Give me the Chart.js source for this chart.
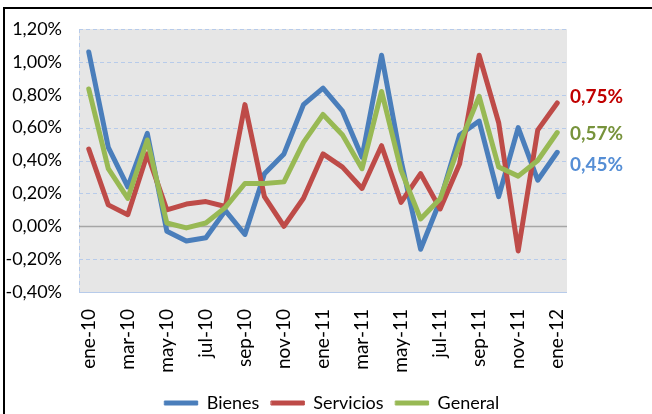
<!DOCTYPE html>
<html>
<head>
<meta charset="utf-8">
<script src="https://cdn.jsdelivr.net/npm/chart.js@4"></script>
<style>
  html, body { margin:0; padding:0; background:#fff; overflow:hidden; }
  #wrap { position:relative; width:652px; height:414px; }
  #marco { position:absolute; left:3px; top:7px; width:800px; height:600px;
           border-top:2px solid #000; border-left:2px solid #000; }
  #grafico { position:absolute; left:0; top:0; }
</style>
</head>
<body>
<div id="wrap">
  <div id="marco"></div>
  <canvas id="grafico" width="652" height="414"></canvas>
</div>
<script>
(function(){
  'use strict';

  // meses (ene-10 .. ene-12), solo se rotulan uno de cada dos
  const meses = [
    'ene-10','feb-10','mar-10','abr-10','may-10','jun-10','jul-10','ago-10','sep-10','oct-10','nov-10','dic-10',
    'ene-11','feb-11','mar-11','abr-11','may-11','jun-11','jul-11','ago-11','sep-11','oct-11','nov-11','dic-11',
    'ene-12'
  ];

  // variación mensual, en %
  const bienes = [1.06, 0.48, 0.24, 0.565, -0.03, -0.09, -0.07, 0.095, -0.05, 0.32, 0.44, 0.74,
                  0.84, 0.70, 0.42, 1.04, 0.40, -0.14, 0.155, 0.555, 0.64, 0.18, 0.60, 0.28, 0.45];
  const servicios = [0.47, 0.13, 0.07, 0.44, 0.10, 0.135, 0.15, 0.12, 0.74, 0.18, 0.00, 0.17,
                     0.44, 0.36, 0.23, 0.49, 0.145, 0.32, 0.105, 0.38, 1.04, 0.63, -0.15, 0.585, 0.75];
  const general = [0.835, 0.35, 0.17, 0.525, 0.02, -0.01, 0.02, 0.115, 0.26, 0.26, 0.27, 0.51,
                   0.68, 0.555, 0.35, 0.82, 0.34, 0.044, 0.167, 0.50, 0.79, 0.36, 0.305, 0.40, 0.57];

  const ejeY = { min: -0.4, max: 1.2, paso: 0.2 };

  const AZUL = '#4A7EBB', ROJO = '#BE4B48', VERDE = '#98B954';
  const FUENTE = 'Lato, "Open Sans", sans-serif';

  function pct(v){ return v.toFixed(2).replace('.', ',') + '%'; }

  // fondo gris y líneas de división al estilo Excel
  const fondoPlot = {
    id: 'fondoPlot',
    beforeDatasetsDraw(chart){
      const {ctx, chartArea: a, scales} = chart;
      const y = scales.y;
      ctx.save();
      ctx.fillStyle = '#E6E6E6';
      ctx.fillRect(a.left, a.top, a.right - a.left, a.bottom - a.top);
      ctx.lineWidth = 1;
      y.ticks.forEach(t => {
        const py = Math.round(y.getPixelForValue(t.value)) + 0.5;
        if (Math.abs(t.value) < 1e-9) return;
        ctx.strokeStyle = '#B7CBEA';
        ctx.setLineDash(t.value <= ejeY.min + 1e-9 ? [] : [4, 3]);
        ctx.beginPath(); ctx.moveTo(a.left, py); ctx.lineTo(a.right, py); ctx.stroke();
      });
      ctx.setLineDash([4, 3]);
      ctx.strokeStyle = '#B7CBEA';
      ctx.beginPath(); ctx.moveTo(a.left + 0.5, a.top); ctx.lineTo(a.left + 0.5, a.bottom); ctx.stroke();
      ctx.setLineDash([]);
      const p0 = Math.round(y.getPixelForValue(0)) + 0.5;
      ctx.strokeStyle = '#A6A6A6';
      ctx.lineWidth = 1.5;
      ctx.beginPath(); ctx.moveTo(a.left, p0); ctx.lineTo(a.right, p0); ctx.stroke();
      ctx.restore();
    }
  };

  // último valor de cada serie a la derecha
  const etiquetasFinales = {
    id: 'etiquetasFinales',
    afterDatasetsDraw(chart, args, opts){
      const {ctx, chartArea: a, scales} = chart;
      ctx.save();
      ctx.font = 'bold 19px ' + FUENTE;
      ctx.textAlign = 'left';
      ctx.textBaseline = 'middle';
      chart.data.datasets.forEach((ds, i) => {
        const v = ds.data[ds.data.length - 1];
        const py = scales.y.getPixelForValue(v) + (opts.desfase[i] || 0);
        ctx.fillStyle = opts.colores[i];
        ctx.fillText(pct(v), a.right + 3, py);
      });
      ctx.restore();
    }
  };

  // la leyenda de Excel va centrada en todo el ancho, no solo bajo el gráfico
  const leyendaCentrada = {
    id: 'leyendaCentrada',
    afterLayout(chart){
      const lg = chart.legend;
      if (!lg) return;
      const d = (chart.width - (lg.left + lg.right)) / 2 + 6;
      lg.left += d;
      lg.right += d;
    }
  };

  function serie(label, data, color, orden){
    return {
      label, data, order: orden,
      borderColor: color, backgroundColor: color,
      borderWidth: 5, pointRadius: 0, tension: 0,
      borderCapStyle: 'round', borderJoinStyle: 'round'
    };
  }

  function init(){
    const ctx = document.getElementById('grafico').getContext('2d');
    new Chart(ctx, {
      type: 'line',
      data: {
        labels: meses,
        datasets: [
          serie('Bienes', bienes, AZUL, 3),
          serie('Servicios', servicios, ROJO, 2),
          serie('General', general, VERDE, 1)
        ]
      },
      options: {
        responsive: false,
        animation: false,
        layout: { padding: { left: 0, right: 85, top: 29, bottom: -8 } },
        plugins: {
          tooltip: { enabled: false },
          legend: {
            position: 'bottom',
            labels: {
              boxWidth: 33, boxHeight: 4, padding: 12,
              color: '#000',
              font: { family: FUENTE, size: 18 },
              sort: (a, b) => a.datasetIndex - b.datasetIndex,
              generateLabels(chart){
                const items = Chart.defaults.plugins.legend.labels.generateLabels(chart);
                items.forEach(it => { it.lineWidth = 1; });
                return items;
              }
            }
          },
          etiquetasFinales: {
            colores: ['#558ED5', '#C00000', '#77933C'],
            desfase: [13, -6, 1]
          }
        },
        scales: {
          x: {
            offset: true,
            grid: { display: false },
            border: { display: false },
            ticks: {
              autoSkip: false, minRotation: 90, maxRotation: 90, padding: 9,
              color: '#000', font: { family: FUENTE, size: 19 },
              callback: (v, i) => (i % 2 === 0 ? meses[i] : '')
            },
            afterFit: s => { s.height = 90; }
          },
          y: {
            min: ejeY.min, max: ejeY.max,
            grid: { display: false },
            border: { display: false },
            ticks: {
              stepSize: ejeY.paso, padding: 9,
              color: '#000', font: { family: FUENTE, size: 18 },
              callback: v => pct(v)
            },
            afterFit: s => { s.width = 79; }
          }
        }
      },
      plugins: [fondoPlot, etiquetasFinales, leyendaCentrada]
    });
  }

  if (document.readyState === 'loading'){
    document.addEventListener('DOMContentLoaded', init);
  } else {
    init();
  }
})();
</script>
</body>
</html>
